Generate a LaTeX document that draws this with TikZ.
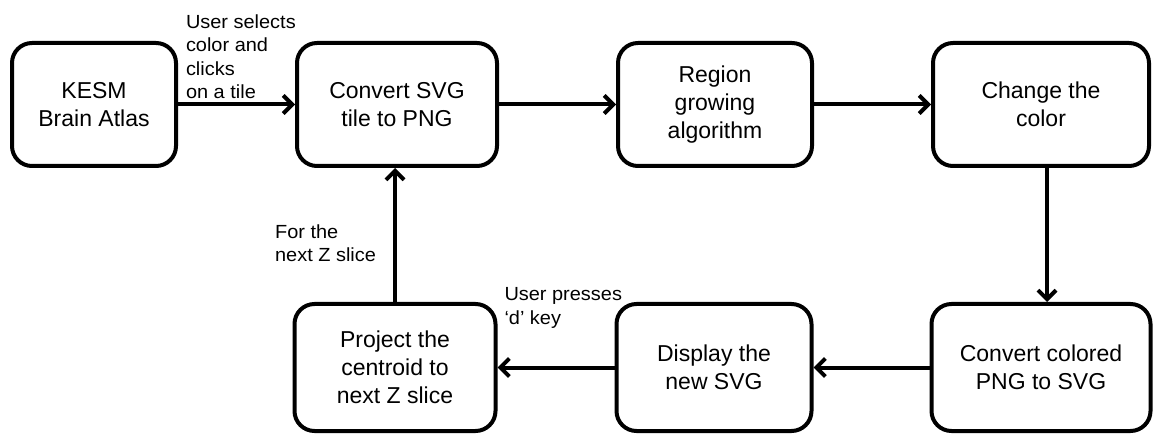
\documentclass[tikz,border=0pt]{standalone}
\usepackage{fontspec}
\setmainfont{Liberation Sans}
\newfontfamily\notefont{Liberation Sans}[FakeStretch=1.05]
\usetikzlibrary{positioning,arrows.meta}

\tikzset{
  stage/.style={draw, line width=4pt, rounded corners=20pt, align=center,
    minimum height=123pt, inner sep=2pt, font=\fontsize{23pt}{28pt}\selectfont},
  note/.style={align=left, inner sep=0pt, text depth=0pt,
    font=\notefont\fontsize{19pt}{23.5pt}\selectfont},
  flow/.style={line width=4pt, -{Straight Barb[length=9pt,width=18pt]}}
}

\begin{document}
\begin{tikzpicture}[x=1pt,y=1pt]
    \useasboundingbox (0,0) rectangle (1156,-435);

    % top row
    \node[stage, minimum width=164pt] (kesm) at (94,-104.5) {KESM\\Brain Atlas};
    \node[stage, minimum width=200pt, right=117pt of kesm] (svgpng) {Convert SVG\\tile to PNG};
    \node[stage, minimum width=194pt, right=117pt of svgpng] (region) {Region\\growing\\algorithm};
    \node[stage, minimum width=216pt, right=117pt of region] (change) {Change the\\color};

    % bottom row
    \node[stage, minimum width=219pt, minimum height=127pt, below=134pt of change] (colored) {Convert colored\\PNG to SVG};
    \node[stage, minimum width=195pt, minimum height=127pt, left=116pt of colored] (display) {Display the\\new SVG};
    \node[stage, minimum width=201pt, minimum height=127pt, left=117pt of display] (project) {Project the\\centroid to\\next Z slice};

    \draw[flow] (kesm) -- node[note, pos=0, anchor=south west, xshift=6pt, yshift=3.5pt] {User selects\\color and\\clicks\\on a tile} (svgpng);
    \draw[flow] (svgpng) -- (region);
    \draw[flow] (region) -- (change);
    \draw[flow] ([xshift=6pt]change.south) -- ([xshift=6pt]change.south |- colored.north);
    \draw[flow] (colored) -- (display);
    \draw[flow] (display) -- node[note, pos=1, anchor=south west, xshift=5pt, yshift=41pt] {User presses\\‘d’ key} (project);
    \draw[flow] (project) -- node[note, pos=0, anchor=south east, xshift=-17pt, yshift=38pt] {For the\\next Z slice} (svgpng.south -| project);
\end{tikzpicture}
\end{document}
